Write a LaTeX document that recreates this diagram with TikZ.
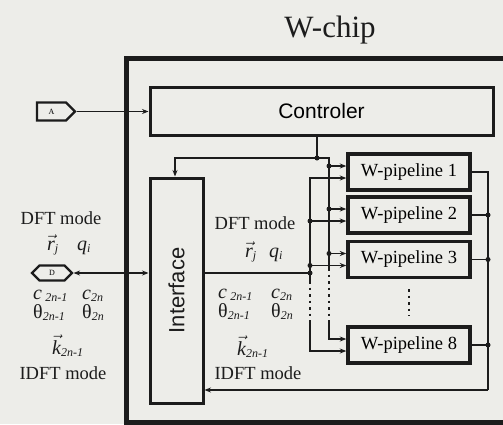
\documentclass[tikz,border=0pt]{standalone}
\usepackage{fontspec}
\setmainfont{Liberation Serif}
\newfontfamily\helv{Liberation Sans}
\usetikzlibrary{arrows.meta,calc,shapes.symbols}
\definecolor{ink}{RGB}{28,28,28}
\definecolor{bgc}{RGB}{237,237,233}
\newcommand\sbx[1]{\raisebox{-0.12em}{\fontsize{12}{12}\selectfont\itshape #1}}
\newcommand\vv[1]{$\vec{\mbox{\itshape #1}}$}
\begin{document}
\begin{tikzpicture}[x=1pt,y=-1pt,
  >={Stealth[length=6.5pt,width=5pt]},
  line/.style={line width=1.6pt, draw=ink},
  dots/.style={line width=1.8pt, draw=ink, dash pattern=on 2.5pt off 4pt},
  box/.style={draw=ink, line width=3pt, rectangle, inner sep=0pt},
  pipe/.style={box, line width=3.4pt, minimum width=122pt, minimum height=36pt, font=\fontsize{18.5}{19}\selectfont},
  lbl/.style={font=\fontsize{18.5}{20}\selectfont, inner sep=0pt, text=ink},
  mth/.style={font=\fontsize{20}{22}\selectfont, inner sep=0pt, text=ink, anchor=base west},
  tag/.style={signal, draw=ink, line width=2.2pt, inner sep=0pt, font=\fontsize{8}{8}\selectfont},
]
\useasboundingbox (0,0) rectangle (503,424);
\clip (0,0) rectangle (503,424);
\fill[bgc] (0,0) rectangle (503,424);

% title and chip border
\node[font=\fontsize{31}{32}\selectfont, text=ink] (title) at (330,30) {W-chip};
\draw[ink, line width=5pt] (126,58) rectangle (540,422);

% blocks
\node[box, minimum width=343pt, minimum height=48pt, font=\helv\fontsize{21}{22}\selectfont] (ctrl) at (321.5,111) {Controler};
\node[box, minimum width=53pt, minimum height=225pt] (iface) at (176.5,290.5) {};
\node[rotate=90, font=\helv\fontsize{22}{23}\selectfont, text=ink] (iftxt) at (iface.center) {Interface};
\node[pipe] (p1) at (409,172) {W-pipeline 1};
\node[pipe] (p2) at (409,215) {W-pipeline 2};
\node[pipe] (p3) at (409,259.5) {W-pipeline 3};
\node[pipe] (p8) at (409,345) {W-pipeline 8};

% port tags
\node[tag, signal to=east, minimum width=38pt, minimum height=18pt] (A) at (51.5,111.5) {A};
\node[tag, signal to=east and west, minimum width=40pt, minimum height=15pt] (D) at (52,273) {D};

% input connectors
\draw[line,->] (A.east) -- (ctrl.west |- A.east);
\draw[line,<->] (D.east) -- (iface.west |- D.east);

% control distribution
\coordinate (jc) at (317,158);
\coordinate (itop) at (175,158);
\draw[line] (ctrl.south -| jc) -- (jc);
\draw[line,->] (jc) -- (itop) -- (iface.north -| itop);
\fill[ink] (jc) circle (2.5pt);

\foreach \p in {p1,p2,p3,p8} {
  \coordinate (\p c) at ($(\p.west)+(0,-6)$);
  \coordinate (\p d) at ($(\p.west)+(0,6)$);
}
\coordinate (cbt) at (329,158);
\coordinate (cb1) at (329,268);
\coordinate (cb2) at (329,322);
\draw[line] (jc) -- (cbt) -- (cb1);
\draw[dots] (cb1) -- (cb2);
\draw[line,->] (cb2) |- (p8c);
\foreach \p in {p1,p2,p3} {
  \draw[line,->] (cbt |- \p c) -- (\p c);
  \fill[ink] (cbt |- \p c) circle (2.5pt);
}

% data distribution
\coordinate (db1) at (310,281);
\coordinate (db2) at (310,322);
\draw[line,->] (db1) |- (p1d);
\draw[dots] (db1) -- (db2);
\draw[line,->] (db2) |- (p8d);
\foreach \p in {p2,p3} {
  \draw[line,->] (db1 |- \p d) -- (\p d);
  \fill[ink] (db1 |- \p d) circle (2.5pt);
}
\draw[line] (iface.east |- D.east) -- (db1 |- D.east);
\fill[ink] (db1 |- D.east) circle (2.5pt);

% vertical dots between pipelines
\draw[dots] ($(p3.south)+(0,10)$) -- ($(p8.north)+(0,-10)$);

% output bus
\coordinate (ob) at (488,390);
\draw[line] (p1.east) -| (ob);
\draw[line,->] (ob) -- (iface.east |- ob);
\foreach \p in {p2,p3,p8} {
  \draw[line] (\p.east) -- (ob |- \p.east);
  \fill[ink] (ob |- \p.east) circle (2.5pt);
}

% left labels
\node[lbl] (ldft) at (61,218) {DFT mode};
\node[mth] (lr) at (47,250) {\vv{r}\sbx{j}};
\node[mth] (lq) at (77,250) {\itshape q\sbx{i}};
\node[mth] (lc1) at (33,299) {\itshape c\,\sbx{2n-1}};
\node[mth] (lc2) at (82,299) {\itshape c\sbx{2n}};
\node[mth] (lt1) at (33,318) {θ\sbx{2n-1}};
\node[mth] (lt2) at (82,318) {θ\sbx{2n}};
\node[mth] (lk) at (52,354) {\vv{k}\sbx{2n-1}};
\node[lbl] (lidft) at (63,373) {IDFT mode};

% inner labels
\node[lbl] (idft) at (255,223) {DFT mode};
\node[mth] (ir) at (245,257) {\vv{r}\sbx{j}};
\node[mth] (iq) at (269,257) {\itshape q\sbx{i}};
\node[mth] (ic1) at (218,298) {\itshape c\,\sbx{2n-1}};
\node[mth] (ic2) at (271,298) {\itshape c\sbx{2n}};
\node[mth] (it1) at (218,317) {θ\sbx{2n-1}};
\node[mth] (it2) at (271,317) {θ\sbx{2n}};
\node[mth] (ik) at (237,355) {\vv{k}\sbx{2n-1}};
\node[lbl] (iidft) at (258,373) {IDFT mode};
\end{tikzpicture}
\end{document}
